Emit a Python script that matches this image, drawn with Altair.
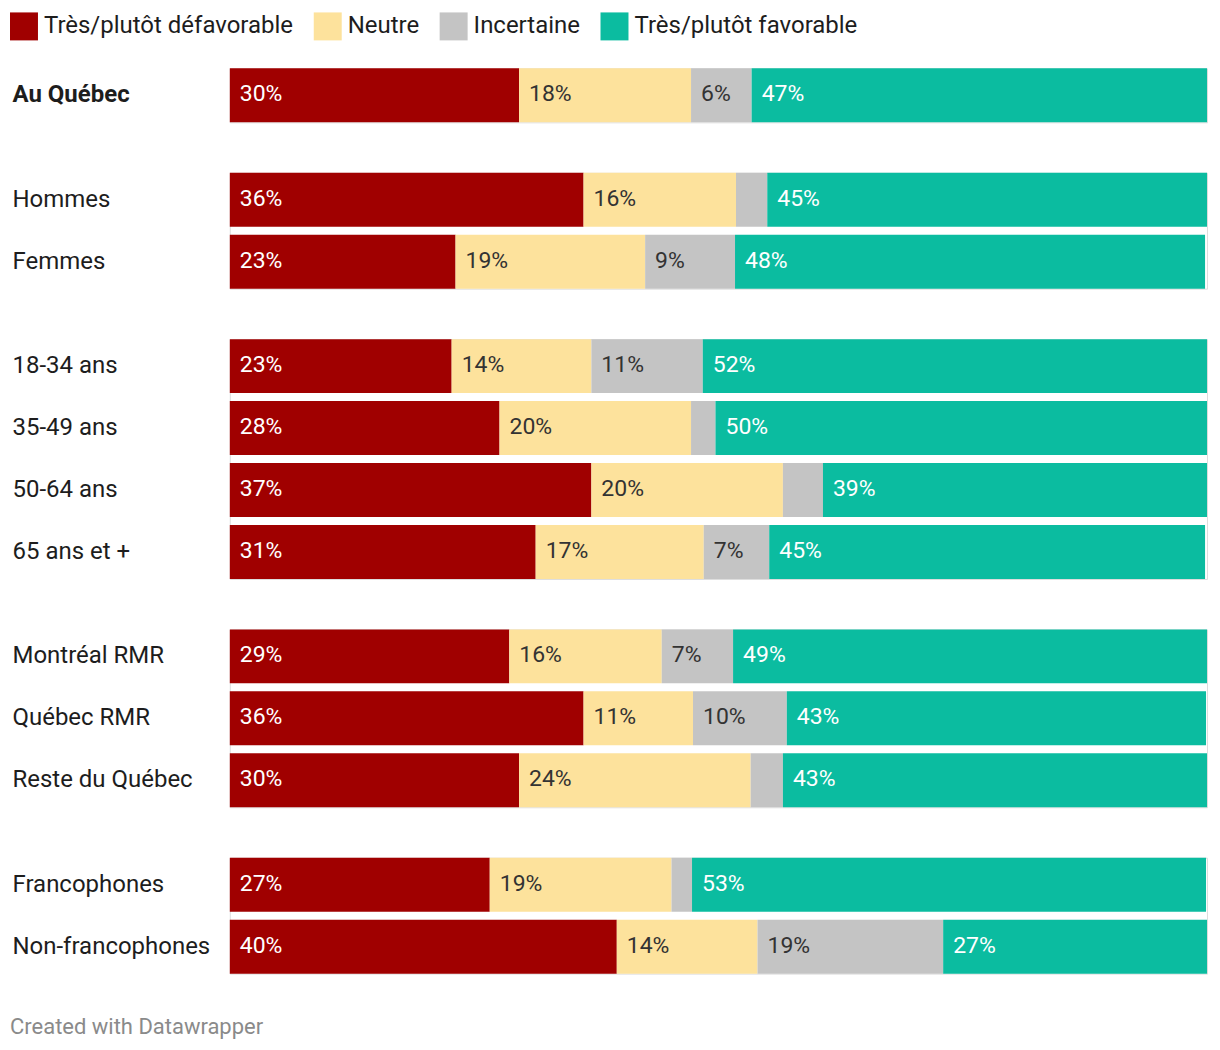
import altair as alt
import pandas as pd

categories = ["Très/plutôt défavorable", "Neutre", "Incertaine", "Très/plutôt favorable"]
colors = ["#a00000", "#fde29c", "#c4c4c4", "#0bbca0"]

groups = [
    ["Au Québec"],
    ["Hommes", "Femmes"],
    ["18-34 ans", "35-49 ans", "50-64 ans", "65 ans et +"],
    ["Montréal RMR", "Québec RMR", "Reste du Québec"],
    ["Francophones", "Non-francophones"],
]

defavorable = [29.6, 36.2, 23.1, 22.7, 27.6, 37.0, 31.3, 28.6, 36.2, 29.6, 26.6, 39.6]
neutre =      [17.6, 15.6, 19.4, 14.3, 19.6, 19.6, 17.2, 15.6, 11.2, 23.7, 18.6, 14.4]
incertaine =  [6.2,  3.2,  9.2,  11.4, 2.5,  4.1,  6.7,  7.3,  9.6,  3.3,  2.1,  19.0]
favorable =   [46.6, 45.0, 48.1, 51.6, 50.3, 39.3, 44.6, 48.5, 42.9, 43.4, 52.6, 27.0]

series = [defavorable, neutre, incertaine, favorable]

rows = []
i = 0
for gi, g in enumerate(groups):
    for r in g:
        for ci, cat in enumerate(categories):
            v = series[ci][i]
            rows.append({
                "group": gi,
                "row": r,
                "cat": cat,
                "order": ci,
                "value": v,
                "label": f"{int(v + 0.5)}%",
            })
        i += 1
df = pd.DataFrame(rows)

FONT = "Roboto"

color_scale = alt.Scale(domain=categories, range=colors)


def panel(gi):
    names = groups[gi]
    base = alt.Chart(df).transform_filter(
        alt.datum.group == gi
    ).transform_stack(
        stack="value", groupby=["row"], sort=[alt.SortField("order", "ascending")],
        as_=["x0", "x1"]
    )
    y = alt.Y(
        "row:N", sort=names, title=None,
        scale=alt.Scale(paddingInner=8 / 62, paddingOuter=0),
        axis=alt.Axis(
            labelAlign="left", labelPadding=218, domain=False, ticks=False,
            labelFontSize=24, labelColor="#1d1d1d", labelFont=FONT,
            labelFontWeight="bold" if gi == 0 else "normal", labelLimit=300,
        ),
    )
    x = alt.X("x0:Q", scale=alt.Scale(domain=[0, 100], nice=False), axis=None)
    bars = base.mark_bar(strokeWidth=0).encode(
        y=y, x=x, x2="x1:Q",
        color=alt.Color(
            "cat:N", scale=color_scale, sort=categories, title=None,
            legend=alt.Legend(
                orient="none", legendX=-220, legendY=-56,
                direction="horizontal", symbolType="square",
                symbolSize=784, symbolStrokeWidth=0, labelFontSize=24,
                labelFont=FONT, labelColor="#1d1d1d", labelOffset=6,
                columnPadding=20, padding=0, labelLimit=500,
            ),
        ),
    )
    texts = base.transform_filter(alt.datum.value >= 5).mark_text(
        align="left", baseline="middle", dx=10, dy=-1, font=FONT, fontSize=23
    ).encode(
        y=y, x=x,
        text="label:N",
        color=alt.condition(
            (alt.datum.order == 1) | (alt.datum.order == 2),
            alt.value("#333333"), alt.value("#ffffff"),
        ),
    )
    return alt.layer(bars, texts).properties(width=978, height=alt.Step(62))


chart = alt.vconcat(*[panel(g) for g in range(len(groups))], spacing=48.5).properties(
    padding={"left": 10, "top": 12, "right": 12, "bottom": 10},
    title=alt.TitleParams(
        "Created with Datawrapper", orient="bottom", anchor="start",
        fontSize=22, font=FONT, fontWeight="normal", color="#8a8a8a", offset=43,
    ),
).configure_view(stroke=None).configure(background="white")

chart.save("out.html", embed_options={"renderer": "svg", "actions": False})
